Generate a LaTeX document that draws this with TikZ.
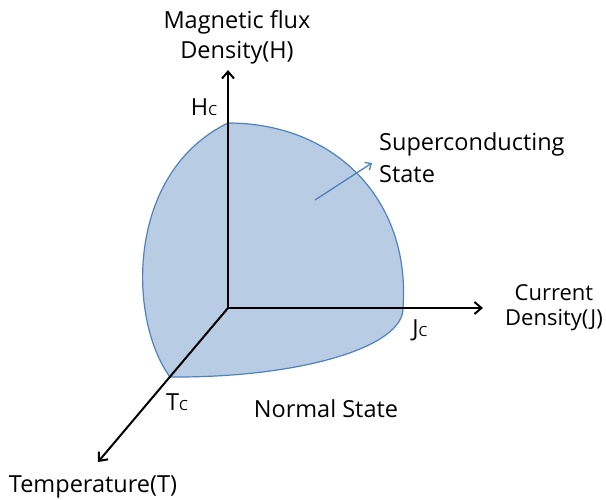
\documentclass[tikz,border=0pt]{standalone}
\usepackage{fontspec}
\setmainfont{Open Sans}
\usepackage{xcolor}
\usetikzlibrary{arrows.meta,positioning}
\definecolor{scfill}{RGB}{184,204,228}
\definecolor{scedge}{RGB}{79,129,189}
\newcommand{\crit}[1]{#1{\fontsize{14}{14}\selectfont C}}

\begin{document}
\begin{tikzpicture}[
  x=1pt, y=-1pt,
  lbl/.style={font=\fontsize{23.5}{30}\selectfont, inner sep=0pt},
  axis/.style={line width=2pt, -{Straight Barb[length=7pt,width=12pt]}},
  region/.style={fill=scfill, draw=scedge, line width=1.2pt},
  pointer/.style={draw=scedge, line width=1.3pt, -{Straight Barb[length=5pt,width=9pt]}}
]
\useasboundingbox (0,0) rectangle (606,499);

\coordinate (O) at (228,308);
\coordinate (Hend) at (228,70);
\coordinate (Jend) at (483,308);
\coordinate (Tend) at (98,462);
\coordinate (Hmax) at (228,123);
\coordinate (Jmax) at (403,308);
\coordinate (Tmax) at (170,377);

% superconducting region
\draw[region] (Hmax) .. controls (335,123) and (411,200) .. (Jmax)
  .. controls (404,347) and (300,378) .. (Tmax)
  .. controls (128,320) and (125,173) .. cycle;

\draw[axis] (O) -- (Hend);
\draw[axis] (O) -- (Jend);
\draw[axis] (O) -- (Tend);

\node[lbl, align=center] (hname) at (237,37) {Magnetic flux\\Density(H)};
\node[lbl, align=center, font=\fontsize{22}{25}\selectfont] (jname) at (554,308) {Current\\Density(J)};
\node[lbl, anchor=base] (tname) at (93,492) {Temperature(T)};

\node[lbl, anchor=base] (hc) at (204,115) {\crit{H}};
\node[lbl, anchor=base] (jc) at (420,336) {\crit{J}};
\node[lbl, anchor=base] (tc) at (177,410) {\crit{T}};

\node[lbl, anchor=base] (normal) at (326,417) {Normal State};
\node[lbl, align=left, anchor=west, font=\fontsize{23.5}{32}\selectfont] (sc) at (379,158) {Superconducting\\State};

\coordinate (ptr) at (315,200);
\draw[pointer] (ptr) -- ([shift={(-7,5)}]sc.west);
\end{tikzpicture}
\end{document}
